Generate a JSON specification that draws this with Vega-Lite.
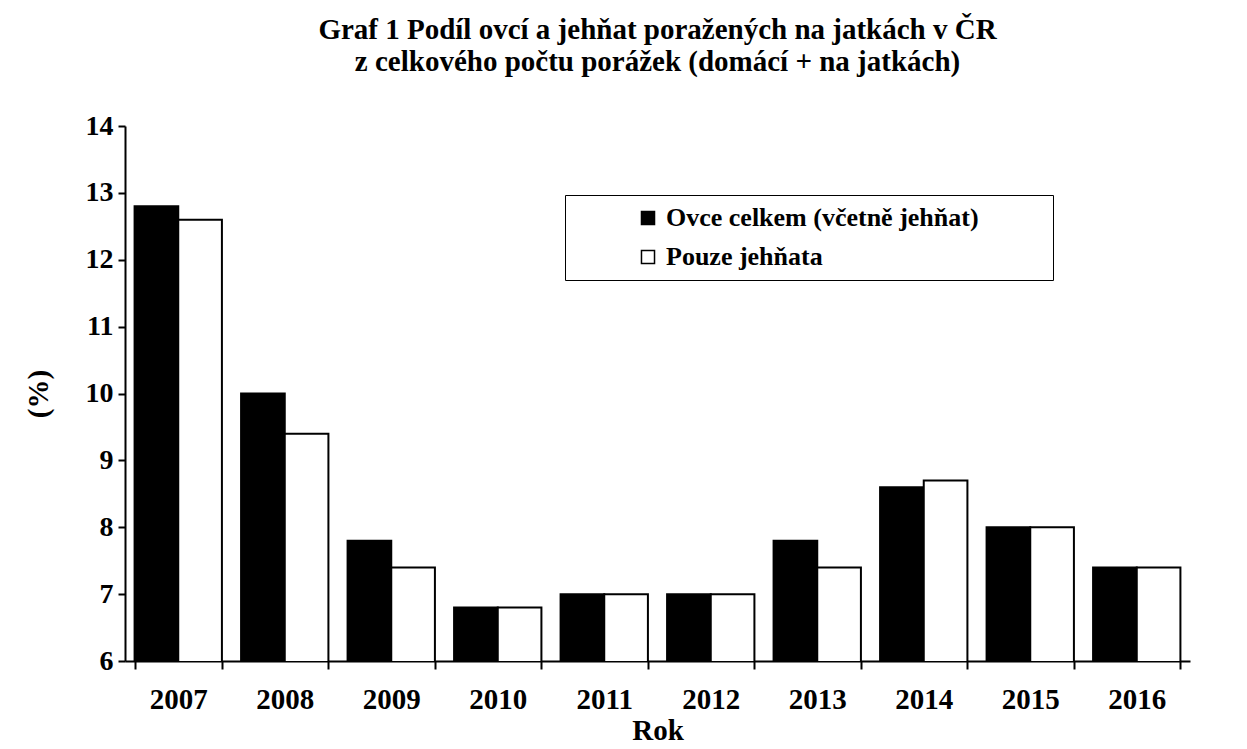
{
  "$schema": "https://vega.github.io/schema/vega-lite/v6.json",
  "autosize": "none",
  "width": 1065,
  "height": 535,
  "padding": {"left": 125, "top": 126, "right": 57, "bottom": 88},
  "background": "white",
  "config": {
    "font": "Liberation Serif",
    "view": {"stroke": null}
  },
  "title": {
    "text": ["Graf 1 Podíl ovcí a jehňat poražených na jatkách v ČR", "z celkového počtu porážek (domácí + na jatkách)"],
    "font": "Liberation Serif",
    "fontSize": 29,
    "fontWeight": "bold",
    "color": "black",
    "lineHeight": 32,
    "anchor": "middle",
    "offset": 35
  },
  "data": {
    "values": [
      {"rok": "2007", "serie": "Ovce celkem (včetně jehňat)", "hodnota": 12.8},
      {"rok": "2007", "serie": "Pouze jehňata", "hodnota": 12.6},
      {"rok": "2008", "serie": "Ovce celkem (včetně jehňat)", "hodnota": 10.0},
      {"rok": "2008", "serie": "Pouze jehňata", "hodnota": 9.4},
      {"rok": "2009", "serie": "Ovce celkem (včetně jehňat)", "hodnota": 7.8},
      {"rok": "2009", "serie": "Pouze jehňata", "hodnota": 7.4},
      {"rok": "2010", "serie": "Ovce celkem (včetně jehňat)", "hodnota": 6.8},
      {"rok": "2010", "serie": "Pouze jehňata", "hodnota": 6.8},
      {"rok": "2011", "serie": "Ovce celkem (včetně jehňat)", "hodnota": 7.0},
      {"rok": "2011", "serie": "Pouze jehňata", "hodnota": 7.0},
      {"rok": "2012", "serie": "Ovce celkem (včetně jehňat)", "hodnota": 7.0},
      {"rok": "2012", "serie": "Pouze jehňata", "hodnota": 7.0},
      {"rok": "2013", "serie": "Ovce celkem (včetně jehňat)", "hodnota": 7.8},
      {"rok": "2013", "serie": "Pouze jehňata", "hodnota": 7.4},
      {"rok": "2014", "serie": "Ovce celkem (včetně jehňat)", "hodnota": 8.6},
      {"rok": "2014", "serie": "Pouze jehňata", "hodnota": 8.7},
      {"rok": "2015", "serie": "Ovce celkem (včetně jehňat)", "hodnota": 8.0},
      {"rok": "2015", "serie": "Pouze jehňata", "hodnota": 8.0},
      {"rok": "2016", "serie": "Ovce celkem (včetně jehňat)", "hodnota": 7.4},
      {"rok": "2016", "serie": "Pouze jehňata", "hodnota": 7.4}
    ]
  },
  "mark": {"type": "bar", "stroke": "black", "strokeWidth": 2, "clip": true},
  "encoding": {
    "x": {
      "field": "rok",
      "type": "nominal",
      "scale": {"paddingInner": 0.18, "paddingOuter": 0.09},
      "axis": {
        "title": "Rok",
        "labelAngle": 0,
        "tickBand": "extent",
        "tickSize": 8,
        "tickWidth": 2,
        "tickColor": "black",
        "domainColor": "black",
        "domainWidth": 2,
        "labelFont": "Liberation Serif",
        "labelFontSize": 29,
        "labelFontWeight": "bold",
        "labelColor": "black",
        "labelPadding": 16,
        "titleFont": "Liberation Serif",
        "titleFontSize": 29,
        "titleFontWeight": "bold",
        "titleColor": "black",
        "titlePadding": 2
      }
    },
    "xOffset": {"field": "serie", "type": "nominal", "sort": ["Ovce celkem (včetně jehňat)", "Pouze jehňata"], "scale": {"paddingInner": 0}},
    "y": {
      "field": "hodnota",
      "type": "quantitative",
      "scale": {"domain": [6, 14], "zero": false, "nice": false},
      "axis": {
        "title": "(%)",
        "values": [6, 7, 8, 9, 10, 11, 12, 13, 14],
        "grid": false,
        "tickSize": 7,
        "tickWidth": 2,
        "tickColor": "black",
        "domainColor": "black",
        "domainWidth": 2,
        "labelFont": "Liberation Serif",
        "labelFontSize": 28,
        "labelFontWeight": "bold",
        "labelColor": "black",
        "labelPadding": 5,
        "titleFont": "Liberation Serif",
        "titleFontSize": 29,
        "titleFontWeight": "bold",
        "titleColor": "black",
        "titlePadding": 32
      }
    },
    "color": {
      "field": "serie",
      "type": "nominal",
      "sort": ["Ovce celkem (včetně jehňat)", "Pouze jehňata"],
      "scale": {"domain": ["Ovce celkem (včetně jehňat)", "Pouze jehňata"], "range": ["black", "white"]},
      "legend": {
        "title": "\u00a0",
        "titleOrient": "right",
        "titlePadding": 64,
        "titleFontSize": 10,
        "orient": "none",
        "legendX": 440,
        "legendY": 69,
        "direction": "vertical",
        "strokeColor": "black",
        "fillColor": "white",
        "padding": 10,
        "symbolType": "square",
        "symbolSize": 170,
        "symbolStrokeColor": "black",
        "symbolStrokeWidth": 1.5,
        "symbolOffset": 60,
        "symbolLimit": 0,
        "labelFont": "Liberation Serif",
        "labelFontSize": 26,
        "labelFontWeight": "bold",
        "labelColor": "black",
        "labelOffset": 5,
        "labelLimit": 0,
        "rowPadding": 13
      }
    }
  }
}
